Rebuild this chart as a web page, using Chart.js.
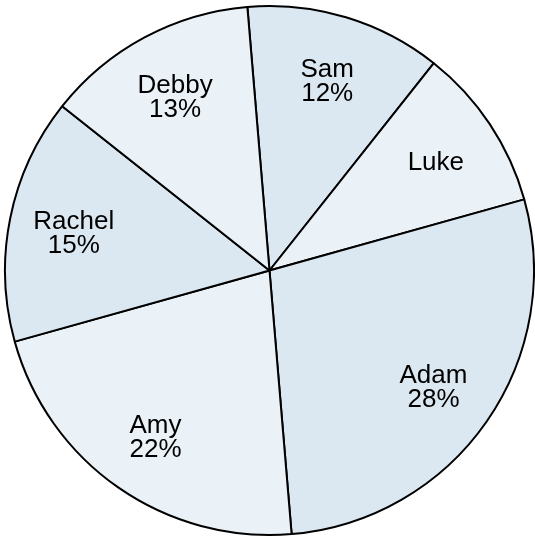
<!DOCTYPE html>
<html>
<head>
<meta charset="utf-8">
<script src="https://cdn.jsdelivr.net/npm/chart.js@4.4.0/dist/chart.umd.min.js"></script>
<style>
  html, body { margin:0; padding:0; background:#fff; }
  #wrap { width:535px; height:537px; position:relative; }
</style>
</head>
<body>
<div id="wrap"><canvas id="pie"></canvas></div>
<script>
// ---------- dados ----------
const names = ["Sam", "Luke", "Adam", "Amy", "Rachel", "Debby"];
const shares = [12, 10, 28, 22, 15, 13];
const labelText = ["12%", "", "28%", "22%", "15%", "13%"];
const sliceColors = ["#dce8f1", "#ebf2f7", "#dce8f1", "#ebf2f7", "#dce8f1", "#ebf2f7"];

// rótulos dentro das fatias
const sliceLabels = {
  id: 'sliceLabels',
  afterDatasetsDraw(chart){
    const ctx = chart.ctx;
    const meta = chart.getDatasetMeta(0);
    ctx.save();
    ctx.font = '26px "Liberation Sans", Arial, sans-serif';
    ctx.fillStyle = '#000';
    ctx.textAlign = 'center';
    ctx.textBaseline = 'middle';
    meta.data.forEach((arc, i) => {
      const p = arc.getProps(['x','y','startAngle','endAngle','outerRadius'], true);
      const mid = (p.startAngle + p.endAngle) / 2;
      const r = p.outerRadius * 0.755;
      const cx = p.x + Math.cos(mid) * r;
      const cy = p.y + Math.sin(mid) * r + 3;
      const lines = [names[i]];
      if (labelText[i]) lines.push(labelText[i]);
      const lh = 24;
      const y0 = cy - (lines.length - 1) * lh / 2;
      lines.forEach((t, k) => ctx.fillText(t, cx, y0 + k * lh));
    });
    ctx.restore();
  }
};

new Chart(document.getElementById('pie'), {
  type: 'pie',
  data: {
    labels: names,
    datasets: [{
      data: shares,
      backgroundColor: sliceColors,
      borderColor: '#000',
      borderWidth: 2
    }]
  },
  options: {
    responsive: true,
    maintainAspectRatio: false,
    animation: false,
    rotation: -4.8,
    layout: { padding: { left: 4, top: 4, right: 0, bottom: 0 } },
    plugins: { legend: { display: false }, tooltip: { enabled: false } }
  },
  plugins: [sliceLabels]
});
</script>
</body>
</html>
